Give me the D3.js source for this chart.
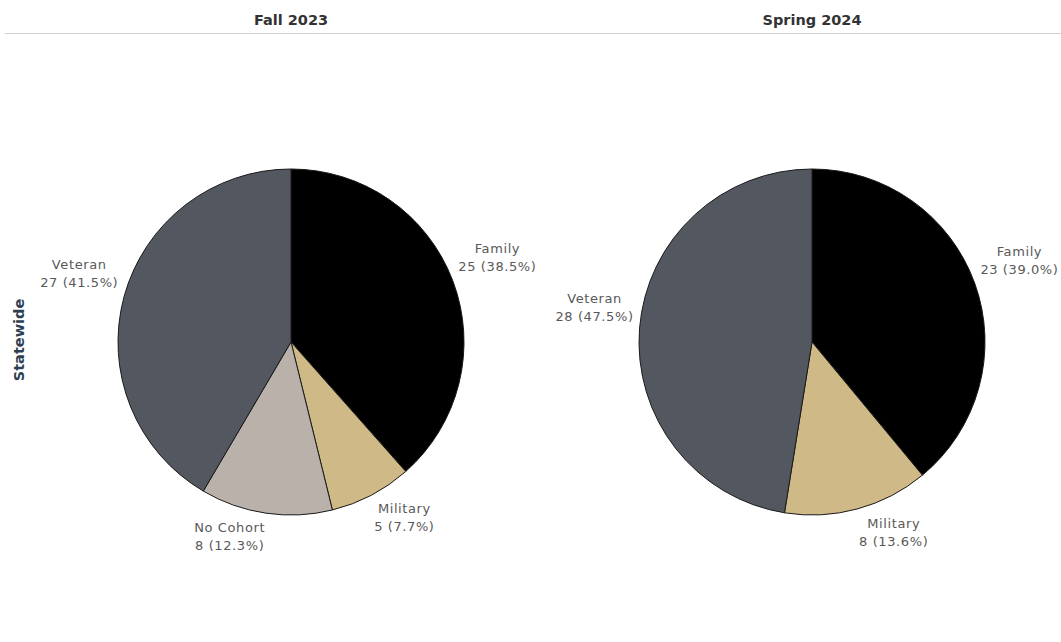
<!DOCTYPE html>
<html>
<head>
<meta charset="utf-8">
<script src="https://cdn.jsdelivr.net/npm/d3@7"></script>
<style>
  body { margin: 0; background: #fff; font-family: "DejaVu Sans", "Open Sans", sans-serif; }
</style>
</head>
<body>
<div id="chart"></div>
<script>
// chart data
var terms = ["Fall 2023", "Spring 2024"];
var cohorts = ["Family", "Military", "No Cohort", "Veteran"];
var fallCounts = [25, 5, 8, 27];
var springCounts = [23, 8, 0, 28];
var rowLabel = "Statewide";

var svgWidth = 1061;
var svgHeight = 642;

var colors = d3.scaleOrdinal()
  .domain(cohorts)
  .range(["#000000", "#cfb987", "#bab1ab", "#53575f"]);

var svg = d3.select("#chart")
  .append("svg")
  .attr("width", svgWidth)
  .attr("height", svgHeight);

// column centers for each term
var xCol = d3.scalePoint()
  .domain(terms)
  .range([291, 812]);

var cy = 342;
var radius = 173;

// header row
svg.append("line")
  .attr("x1", 5).attr("x2", svgWidth)
  .attr("y1", 33.5).attr("y2", 33.5)
  .attr("stroke", "#cfcfcf");

svg.selectAll(".head")
  .data(terms)
  .enter()
  .append("text")
  .attr("x", d => xCol(d))
  .attr("y", 25)
  .attr("text-anchor", "middle")
  .attr("font-size", 14.5)
  .attr("font-weight", 600)
  .attr("fill", "#333")
  .text(d => d);

svg.append("text")
  .attr("transform", "translate(24, 340) rotate(-90)")
  .attr("text-anchor", "middle")
  .attr("font-size", 14.5)
  .attr("font-weight", 600)
  .attr("fill", "#2f3f52")
  .text(rowLabel);

var pie = d3.pie().sort(null).value(d => d.count);
var arc = d3.arc().innerRadius(0).outerRadius(radius);

[fallCounts, springCounts].forEach((counts, i) => {
  var rows = cohorts.map((c, j) => ({ cohort: c, count: counts[j] }))
    .filter(d => d.count > 0);
  var total = d3.sum(rows, d => d.count);

  var g = svg.append("g")
    .attr("transform", `translate(${xCol(terms[i])}, ${cy})`);

  var slices = pie(rows);

  g.selectAll("path")
    .data(slices)
    .enter()
    .append("path")
    .attr("d", arc)
    .attr("fill", d => colors(d.data.cohort))
    .attr("stroke", "#1a1a1a")
    .attr("stroke-width", 1);

  // labels sit just outside the rim at the slice's middle angle
  var lineH = 18;
  slices.forEach(d => {
    var mid = (d.startAngle + d.endAngle) / 2;
    var px = Math.sin(mid) * (radius + 6);
    var py = -Math.cos(mid) * (radius + 8);

    var lbl = g.append("text")
      .attr("font-size", 13)
      .attr("letter-spacing", 0.6)
      .attr("fill", "#595959");
    var t1 = lbl.append("tspan").text(d.data.cohort);
    var pct = (d.data.count / total * 100).toFixed(1);
    var t2 = lbl.append("tspan").text(`${d.data.count} (${pct}%)`);

    var w = Math.max(t1.node().getComputedTextLength(), t2.node().getComputedTextLength());
    var cx = px > 0 ? px + w / 2 : px - w / 2;
    var top = py < 0 ? py - 2 * lineH : py;

    lbl.attr("text-anchor", "middle");
    t1.attr("x", cx).attr("y", top + 11);
    t2.attr("x", cx).attr("y", top + 11 + lineH);
  });
});
</script>
</body>
</html>
